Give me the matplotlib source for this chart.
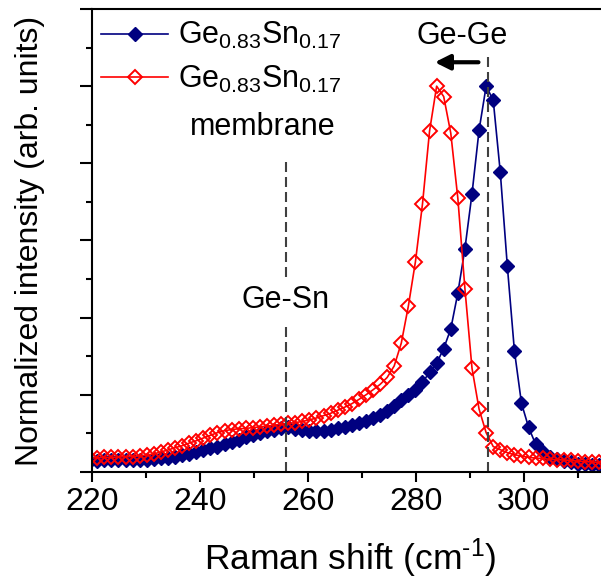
import matplotlib
matplotlib.use("Agg")
import matplotlib.pyplot as plt
from matplotlib.ticker import MultipleLocator

plt.rcParams["font.family"] = ["Liberation Sans", "DejaVu Sans"]
plt.rcParams["mathtext.fontset"] = "custom"
plt.rcParams["mathtext.rm"] = "Liberation Sans"
plt.rcParams["mathtext.it"] = "Liberation Sans:italic"

# Raman shift grid (cm-1), shared by both spectra
shift = [
    219.66, 220.97, 222.28, 223.59, 224.90, 226.21, 227.52, 228.83, 230.14, 231.45,
    232.76, 234.07, 235.38, 236.69, 238.00, 239.31, 240.62, 241.93, 243.24, 244.55,
    245.86, 247.17, 248.48, 249.79, 251.10, 252.41, 253.72, 255.03, 256.34, 257.65,
    258.96, 260.27, 261.58, 262.89, 264.20, 265.51, 266.82, 268.13, 269.44, 270.75,
    272.06, 273.37, 274.68, 275.99, 277.30, 278.61, 279.92, 281.23, 282.54, 283.85,
    285.16, 286.47, 287.78, 289.09, 290.40, 291.71, 293.02, 294.33, 295.64, 296.95,
    298.26, 299.57, 300.88, 302.19, 303.50, 304.81, 306.12, 307.43, 308.74, 310.05,
    311.36, 312.67, 313.98, 315.29,
]

# as-grown Ge0.83Sn0.17
bulk = [
    0.028, 0.029, 0.030, 0.030, 0.031, 0.031, 0.031, 0.031, 0.032, 0.033,
    0.035, 0.037, 0.040, 0.043, 0.047, 0.052, 0.057, 0.061, 0.066, 0.072,
    0.078, 0.084, 0.090, 0.096, 0.101, 0.106, 0.110, 0.114, 0.116, 0.112,
    0.108, 0.106, 0.105, 0.107, 0.110, 0.113, 0.116, 0.121, 0.127, 0.133,
    0.140, 0.148, 0.158, 0.172, 0.186, 0.199, 0.212, 0.233, 0.258, 0.282,
    0.320, 0.371, 0.464, 0.579, 0.721, 0.886, 1.000, 0.964, 0.777, 0.533,
    0.314, 0.178, 0.116, 0.072, 0.052, 0.040, 0.033, 0.028, 0.025, 0.022,
    0.020, 0.018, 0.017, 0.016,
]

# Ge0.83Sn0.17 membrane
membrane = [
    0.036, 0.037, 0.038, 0.038, 0.039, 0.040, 0.040, 0.042, 0.044, 0.047,
    0.052, 0.057, 0.063, 0.068, 0.075, 0.081, 0.088, 0.095, 0.102, 0.107,
    0.110, 0.112, 0.113, 0.115, 0.117, 0.119, 0.121, 0.124, 0.126, 0.128,
    0.131, 0.135, 0.140, 0.146, 0.152, 0.160, 0.168, 0.177, 0.188, 0.200,
    0.213, 0.227, 0.245, 0.275, 0.334, 0.430, 0.545, 0.695, 0.884, 1.000,
    0.973, 0.878, 0.709, 0.475, 0.269, 0.163, 0.102, 0.066, 0.058, 0.050,
    0.045, 0.041, 0.038, 0.036, 0.035, 0.033, 0.032, 0.031, 0.030, 0.028,
    0.027, 0.026, 0.025, 0.024,
]

label_bulk = r"Ge$_{\mathregular{0.83}}$Sn$_{\mathregular{0.17}}$"
label_membrane = r"Ge$_{\mathregular{0.83}}$Sn$_{\mathregular{0.17}}$"

ge_ge_pos = 293.3
ge_sn_pos = 255.9

fig = plt.figure(figsize=(6.01, 5.82), dpi=100)
ax = fig.add_axes([92 / 601, 110 / 582, 509 / 601, 463 / 582])

ax.plot(shift, bulk, color="#000080", marker="D", markersize=7.5, lw=1.2,
        label=label_bulk)
ax.plot(shift, membrane, color="#ff0000", marker="D", markersize=7.5, lw=1.2,
        markerfacecolor="none", markeredgewidth=1.4, label=label_membrane)

# reference positions of the two phonon modes
ax.plot([ge_ge_pos, ge_ge_pos], [0, 1.075], color="#404040", lw=1.5,
        linestyle=(0, (4.8, 2.4)))
ax.plot([ge_sn_pos, ge_sn_pos], [0, 0.81], color="#404040", lw=1.5,
        linestyle=(0, (4.8, 2.4)))

ax.text(288.5, 1.13, "Ge-Ge", fontsize=22, ha="center", va="center")
# white box hides the dashed line behind the label
ax.text(255.8, 0.445, "Ge-Sn", fontsize=22, ha="center", va="center",
        bbox=dict(facecolor="white", edgecolor="none", pad=5), zorder=5)
ax.annotate("", xy=(283.5, 1.062), xytext=(291.6, 1.062),
            arrowprops=dict(arrowstyle="-|>,head_length=0.9,head_width=0.45",
                            color="black", lw=3, shrinkA=0, shrinkB=0))

ax.set_xlim(220, 314.3)
ax.set_ylim(0, 1.2)
ax.xaxis.set_major_locator(MultipleLocator(20))
ax.xaxis.set_minor_locator(MultipleLocator(10))
ax.yaxis.set_major_locator(MultipleLocator(0.2))
ax.yaxis.set_minor_locator(MultipleLocator(0.1))
ax.set_yticklabels([])
ax.tick_params(axis="both", which="major", direction="out", length=7, width=1.5,
               labelsize=23)
ax.tick_params(axis="both", which="minor", direction="out", length=4, width=1.5)
ax.tick_params(axis="y", which="major", length=9)
ax.tick_params(top=False, right=False)
for side in ["left", "bottom", "top"]:
    ax.spines[side].set_linewidth(1.5)
ax.spines["right"].set_visible(False)

ax.set_xlabel(r"Raman shift (cm$^{\text{-1}}$)", fontsize=25.5)
ax.set_ylabel("Normalized intensity (arb. units)", fontsize=23)
ax.xaxis.set_label_coords(0.507, -0.14)
ax.yaxis.set_label_coords(-0.0925, 0.5)

leg = ax.legend(loc="upper left", bbox_to_anchor=(-0.018, 1.015), frameon=False,
                fontsize=22, handlelength=2.2, handletextpad=0.3,
                labelspacing=0.4, borderaxespad=0.2)
ax.text(0.335, 0.745, "membrane", fontsize=22, ha="center", va="center",
        transform=ax.transAxes)

fig.savefig("out.png", dpi=100)
